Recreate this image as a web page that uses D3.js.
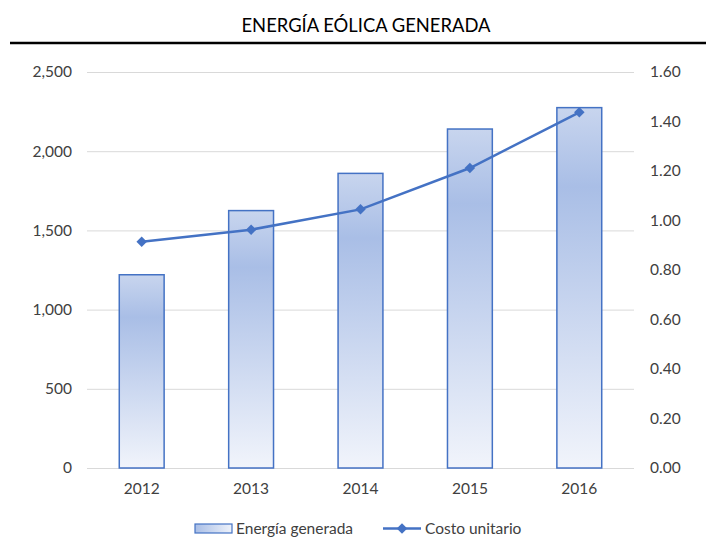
<!DOCTYPE html>
<html>
<head>
<meta charset="utf-8">
<script src="https://cdn.jsdelivr.net/npm/d3@7"></script>
<style>
  body { margin: 0; background: #fff; }
  text { font-family: Lato, "Open Sans", sans-serif; fill: #404040; }
</style>
</head>
<body>
<svg id="chart" width="706" height="538"></svg>
<script>
// datos
var years = ["2012", "2013", "2014", "2015", "2016"];
var energia = [1220, 1625, 1860, 2140, 2275];
var costo = [0.914, 0.963, 1.045, 1.212, 1.437];
var leftTicks = [0, 500, 1000, 1500, 2000, 2500];
var rightTicks = [0, 0.2, 0.4, 0.6, 0.8, 1.0, 1.2, 1.4, 1.6];

var azul = "#4472c4";
var fs = 15.5;
var svg = d3.select("#chart");

// gradiente de las barras
var grad = svg.append("defs").append("linearGradient")
  .attr("id", "barGrad").attr("x1", 0).attr("y1", 0).attr("x2", 0).attr("y2", 1);
grad.append("stop").attr("offset", "0%").attr("stop-color", "#c8d5ee");
grad.append("stop").attr("offset", "22%").attr("stop-color", "#a9bee6");
grad.append("stop").attr("offset", "100%").attr("stop-color", "#f1f4fb");

var lgrad = svg.select("defs").append("linearGradient")
  .attr("id", "legGrad").attr("x1", 0).attr("y1", 0).attr("x2", 1).attr("y2", 0);
lgrad.append("stop").attr("offset", "0%").attr("stop-color", "#a9bee6");
lgrad.append("stop").attr("offset", "100%").attr("stop-color", "#eef2fa");

// titulo
svg.append("text").text("ENERGÍA EÓLICA GENERADA")
  .attr("x", 366).attr("y", 32).attr("text-anchor", "middle")
  .attr("font-size", 18.4).style("fill", "#000");
svg.append("line").attr("x1", 10).attr("x2", 706).attr("y1", 43).attr("y2", 43)
  .attr("stroke", "#000").attr("stroke-width", 2.5);

var x = d3.scaleBand().domain(years).range([87, 634]).paddingInner(0.59).paddingOuter(0.295);
var yL = d3.scaleLinear().domain([0, 2500]).range([468, 72]);
var yR = d3.scaleLinear().domain([0, 1.6]).range([468, 72]);

// lineas de cuadricula
svg.append("g").selectAll("line").data(leftTicks).join("line")
  .attr("x1", 87).attr("x2", 634)
  .attr("y1", function(d){ return yL(d) + 0.5; })
  .attr("y2", function(d){ return yL(d) + 0.5; })
  .attr("stroke", "#d9d9d9").attr("stroke-width", 1);

// ejes
var axL = svg.append("g").attr("transform", "translate(87,0)")
  .call(d3.axisLeft(yL).tickValues(leftTicks).tickFormat(d3.format(",")).tickSize(0).tickPadding(15));
var axR = svg.append("g").attr("transform", "translate(634,0)")
  .call(d3.axisRight(yR).tickValues(rightTicks).tickFormat(d3.format(".2f")).tickSize(0).tickPadding(16));
var axX = svg.append("g").attr("transform", "translate(0,468)")
  .call(d3.axisBottom(x).tickSize(0).tickPadding(15));
[axL, axR, axX].forEach(function(a){
  a.select(".domain").remove();
  a.selectAll("text").attr("font-size", fs).style("font-family", "Lato, sans-serif").style("fill", "#404040");
});

// barras
svg.append("g").selectAll("rect").data(energia).join("rect")
  .attr("x", function(d, i){ return x(years[i]); })
  .attr("width", x.bandwidth())
  .attr("y", function(d){ return yL(d); })
  .attr("height", function(d){ return yL(0) - yL(d); })
  .attr("fill", "url(#barGrad)")
  .attr("stroke", azul).attr("stroke-width", 1.5);

// linea de costo
var linea = d3.line()
  .x(function(d, i){ return x(years[i]) + x.bandwidth() / 2; })
  .y(function(d){ return yR(d); });
svg.append("path").datum(costo).attr("d", linea)
  .attr("fill", "none").attr("stroke", azul).attr("stroke-width", 2.5);
var diamante = d3.symbol().type(d3.symbolDiamond2).size(70);
svg.append("g").selectAll("path").data(costo).join("path")
  .attr("d", diamante)
  .attr("transform", function(d, i){
    return "translate(" + (x(years[i]) + x.bandwidth() / 2) + "," + yR(d) + ")";
  })
  .attr("fill", azul);

// leyenda
var leg = svg.append("g");
leg.append("rect").attr("x", 195).attr("y", 524).attr("width", 37).attr("height", 9)
  .attr("fill", "url(#legGrad)").attr("stroke", azul).attr("stroke-width", 1.2);
leg.append("text").text("Energía generada").attr("x", 236).attr("y", 534).attr("font-size", fs);
leg.append("line").attr("x1", 383).attr("x2", 421).attr("y1", 528.5).attr("y2", 528.5)
  .attr("stroke", azul).attr("stroke-width", 2.5);
leg.append("path").attr("d", diamante).attr("transform", "translate(402,528.5)").attr("fill", azul);
leg.append("text").text("Costo unitario").attr("x", 425).attr("y", 534).attr("font-size", fs);
</script>
</body>
</html>
